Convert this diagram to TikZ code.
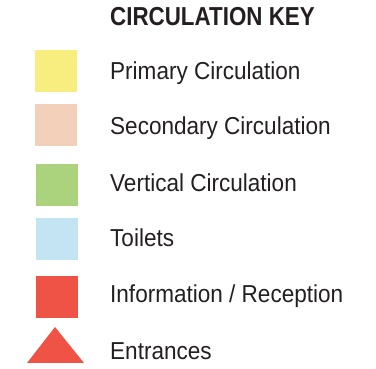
\documentclass[tikz,border=0pt]{standalone}
\usepackage{fontspec}
\setmainfont{Liberation Sans}[FakeStretch=0.92]
\newfontfamily\titlefont{Liberation Sans}[FakeStretch=0.86]
\definecolor{keytext}{HTML}{231F20}
\definecolor{primcol}{HTML}{F7EE7F}
\definecolor{seccol}{HTML}{F2D0B9}
\definecolor{vertcol}{HTML}{ABD37D}
\definecolor{toilcol}{HTML}{C3E4F2}
\definecolor{infocol}{HTML}{EF5346}
\tikzset{
  swatch/.style={minimum size=42pt,inner sep=0pt,anchor=north west},
  keylabel/.style={anchor=base west,inner sep=0pt,text=keytext,font=\fontsize{24.5}{28}\selectfont}
}

\begin{document}
\begin{tikzpicture}[x=1pt,y=-1pt]
\useasboundingbox (0,0) rectangle (376,369);
\node [keylabel,font=\titlefont\bfseries\fontsize{26}{30}\selectfont] (title) at (110,26) {CIRCULATION KEY};
% swatches
\node [swatch,fill=primcol] (prim) at (35,50) {};
\node [swatch,fill=seccol] (sec) at (35,104) {};
\node [swatch,fill=vertcol] (vert) at (36,164) {};
\node [swatch,fill=toilcol] (toil) at (36,218) {};
\node [swatch,fill=infocol] (info) at (36,276) {};
\fill [infocol] (27,363)--(55,327)--(84,363)--cycle;
% labels
\node [keylabel] (primtext) at (110,80) {Primary Circulation};
\node [keylabel] (sectext) at (110,135) {Secondary Circulation};
\node [keylabel] (verttext) at (110,192) {Vertical Circulation};
\node [keylabel] (toiltext) at (110,247) {Toilets};
\node [keylabel] (infotext) at (110,303) {Information / Reception};
\node [keylabel] (enttext) at (110,360) {Entrances};
\end{tikzpicture}
\end{document}
